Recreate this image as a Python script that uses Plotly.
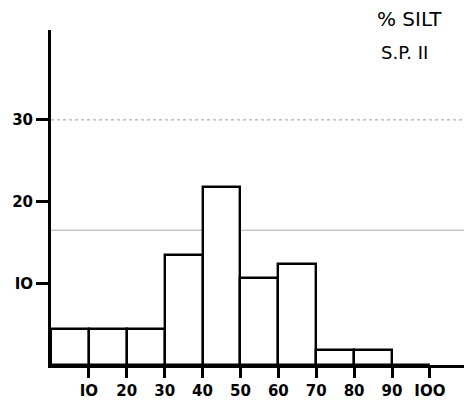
import plotly.graph_objects as go

bin_edges = [0, 10, 20, 30, 40, 50, 60, 70, 80, 90, 100]
silt_freq = [4.4, 4.4, 4.4, 13.5, 21.8, 10.7, 12.4, 1.8, 1.8, 0.0]
x_ticks = [10, 20, 30, 40, 50, 60, 70, 80, 90, 100]
x_tick_labels = ["IO", "20", "30", "40", "50", "60", "70", "80", "90", "IOO"]
y_ticks = [10, 20, 30]
y_tick_labels = ["IO", "20", "30"]
ruling_lines = [30, 16.5]

centers = [(a + b) / 2 for a, b in zip(bin_edges[:-1], bin_edges[1:])]
widths = [b - a for a, b in zip(bin_edges[:-1], bin_edges[1:])]

fig = go.Figure()
fig.add_trace(go.Bar(
    x=centers, y=silt_freq, width=widths,
    marker=dict(color="white", line=dict(color="black", width=2.4)),
    showlegend=False,
))

for yv, dash, col in zip(ruling_lines, ["dot", "solid"], ["#999", "#aaa"]):
    fig.add_shape(type="line", xref="paper", x0=0, x1=1, yref="y", y0=yv, y1=yv,
                  line=dict(color=col, width=1, dash=dash), layer="below")

fig.add_annotation(text="% SILT", xref="paper", yref="paper", x=0.867, y=1.033,
                   xanchor="center", yanchor="middle",
                   showarrow=False, font=dict(size=20, color="black"))
fig.add_annotation(text="S.P. II", xref="paper", yref="paper", x=0.855, y=0.934,
                   xanchor="center", yanchor="middle",
                   showarrow=False, font=dict(size=18, color="black"))

tick_font = dict(family="DejaVu Sans", size=15, color="black", weight="bold")

fig.update_layout(
    width=464, height=401,
    margin=dict(l=51, r=0, t=30, b=36, autoexpand=False),
    paper_bgcolor="white", plot_bgcolor="white",
    font=dict(family="DejaVu Sans", color="black", size=14),
    bargap=0,
    xaxis=dict(range=[0, 109], tickvals=x_ticks, ticktext=x_tick_labels,
               tickfont=tick_font,
               ticks="outside", ticklen=10, tickwidth=2.5, tickcolor="black",
               showline=True, linewidth=3, linecolor="black", automargin=False,
               showgrid=False, zeroline=False, fixedrange=True),
    yaxis=dict(range=[0, 41], tickvals=y_ticks, ticktext=y_tick_labels,
               tickfont=tick_font,
               ticks="outside", ticklen=12, tickwidth=2.5, tickcolor="black",
               showline=True, linewidth=3, linecolor="black", automargin=False,
               showgrid=False, zeroline=False, fixedrange=True),
)

fig.write_html("out.html", config={"displayModeBar": False},
               post_script="document.body.style.margin='0';document.body.style.overflow='hidden';")
